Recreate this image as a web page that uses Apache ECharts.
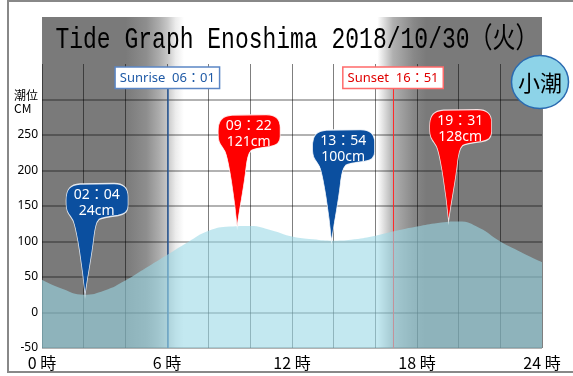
<!DOCTYPE html>
<html>
<head>
<meta charset="utf-8">
<script src="https://cdn.jsdelivr.net/npm/echarts@6/dist/echarts.min.js"></script>
<style>
  html, body { margin: 0; background: #fff; }
  #chart { width: 573px; height: 376px; }
</style>
</head>
<body>
<div id="chart"></div>
<script>
// tide level every hour (cm)
var hours = [0, 1, 2, 3, 4, 5, 6, 7, 8, 9, 10, 11, 12, 13, 14, 15, 16, 17, 18, 19, 20, 21, 22, 23, 24];
var tide = [46, 33, 25, 31, 45, 63, 81, 99, 115, 121, 122, 116, 107, 103, 101, 103, 108, 115, 121, 126, 128, 119, 100, 85, 71];

// high / low water
var peakTimes = ['02:04', '09:22', '13:54', '19:31'];
var peakLevels = [24, 121, 100, 128];
var peakKinds = ['low', 'high', 'low', 'high'];

var sunrise = '06:01';
var sunset = '16:51';
var xLabelHours = [0, 6, 12, 18, 24];
var maxYLabel = 250;
var tideName = '小潮';
var titleText = 'Tide Graph Enoshima 2018/10/30（火）';

var jpFont = '"Noto Sans CJK JP", "Noto Sans", sans-serif';
var pinFont = '"Noto Sans", "Noto Sans CJK JP", sans-serif';

function toHour(t) {
  var p = t.split(':');
  return +p[0] + p[1] / 60;
}

// balloon with a long tail, tip at bottom (19,112)
var pinPath = 'path://M19,112 C16,80 11,50 8,40 C7,36 5,34 3,31 C0,27 0,22 0,17 C0,6 4,1 14,0.5 L48,0 C58,0 62,5 62,13 L62,22 C62,29 58,31 52,32 C44,33 36,34 33,36 C30,39 29,45 28,52 C26,72 21,95 19,112 Z';

var tideData = hours.map(function (h, i) { return [h, tide[i]]; });
var pinData = peakTimes.map(function (t, i) {
  return {
    value: [toHour(t), peakLevels[i]],
    itemStyle: { color: peakKinds[i] === 'high' ? '#ff0000' : '#0b4f9f' }
  };
});

var sr = toHour(sunrise), ss = toHour(sunset);

var chart = echarts.init(document.getElementById('chart'));

var option = {
  animation: false,
  grid: { left: 42, right: 31, top: 64, bottom: 28 },
  xAxis: {
    type: 'value', min: 0, max: 24, interval: 2,
    axisLine: { show: false }, axisTick: { show: false },
    splitLine: { show: true, lineStyle: { color: 'rgba(0,0,0,0.5)', width: 1 } },
    axisLabel: {
      margin: 7, fontSize: 16, color: '#000', fontFamily: jpFont,
      formatter: function (v) { return xLabelHours.indexOf(v) >= 0 ? v + ' 時' : ''; }
    }
  },
  yAxis: {
    type: 'value', min: -50, max: 350, interval: 50,
    axisLine: { show: false }, axisTick: { show: false },
    splitLine: { show: true, showMaxLine: false, lineStyle: { color: 'rgba(0,0,0,0.3)', width: 2 } },
    axisLabel: {
      margin: 4, fontSize: 12, color: '#000', fontFamily: '"Noto Sans", sans-serif',
      formatter: function (v) { return v <= maxYLabel ? v : ''; }
    }
  },
  series: [
    {
      type: 'line',
      z: 3,
      data: tideData,
      smooth: true,
      showSymbol: false,
      lineStyle: { width: 0 },
      areaStyle: { color: 'rgba(155,217,230,0.6)', opacity: 1, origin: 'start' },
      markLine: {
        z: 1,
        silent: true,
        symbol: ['none', 'none'],
        data: [
          [
            {
              coord: [sr, -50],
              lineStyle: { color: '#2b5d9c', width: 1.5, type: 'solid' },
              label: {
                position: 'end', distance: 1, formatter: 'Sunrise  ' + sunrise.replace(':', '：'),
                color: '#1f5aa6', backgroundColor: '#fff', borderColor: '#5b86c5', borderWidth: 1.5,
                padding: [4, 4, 3, 4], fontSize: 13, fontFamily: pinFont
              }
            },
            { coord: [sr, 315] }
          ],
          [
            {
              coord: [ss, -50],
              lineStyle: { color: '#ff2a2a', width: 1, type: 'solid' },
              label: {
                position: 'end', distance: 1, formatter: 'Sunset  ' + sunset.replace(':', '：'),
                color: '#e00000', backgroundColor: '#fff', borderColor: '#ff6a6a', borderWidth: 1.5,
                padding: [4, 4, 3, 4], fontSize: 13, fontFamily: pinFont
              }
            },
            { coord: [ss, 315] }
          ]
        ]
      }
    },
    {
      type: 'scatter',
      z: 5,
      data: pinData,
      symbol: pinPath,
      symbolSize: [62, 112],
      symbolOffset: [12, -56],
      itemStyle: { opacity: 1, borderColor: 'rgba(255,255,255,0.85)', borderWidth: 1 },
      label: {
        show: true, position: [31, 20], align: 'center', verticalAlign: 'middle',
        color: '#fff', fontSize: 14, lineHeight: 16, fontFamily: pinFont,
        formatter: function (p) {
          var i = p.dataIndex;
          return peakTimes[i].replace(':', '：') + '\n' + peakLevels[i] + 'cm';
        }
      }
    }
  ]
};
chart.setOption(option);

// day / night shading behind the plot, placed with the axis scales
var p0 = chart.convertToPixel({ gridIndex: 0 }, [0, -50]);
var p1 = chart.convertToPixel({ gridIndex: 0 }, [24, -50]);
function f(h) { return Math.max(0, Math.min(1, h / 24)); }
var night = '#7a7a7a';

chart.setOption({
  graphic: [
    {
      type: 'rect', z: -1, silent: true,
      shape: { x: p0[0], y: 17, width: p1[0] - p0[0], height: p0[1] - 17 },
      style: {
        fill: {
          type: 'linear', x: 0, y: 0, x2: 1, y2: 0,
          colorStops: [
            { offset: 0, color: night },
            { offset: f(sr - 2.0), color: night },
            { offset: f(sr - 1.0), color: '#8e8e8e' },
            { offset: f(sr - 0.4), color: '#acacac' },
            { offset: f(sr), color: '#c6c6c6' },
            { offset: f(sr + 0.4), color: '#ececec' },
            { offset: f(sr + 0.8), color: '#ffffff' },
            { offset: f(ss - 0.75), color: '#ffffff' },
            { offset: f(ss), color: '#b0b0b0' },
            { offset: f(ss + 1.0), color: '#888888' },
            { offset: f(ss + 1.6), color: night },
            { offset: 1, color: night }
          ]
        }
      }
    },
    {
      type: 'rect', z: 30, silent: true,
      shape: { x: 8, y: 1, width: 600, height: 371 },
      style: { fill: 'transparent', stroke: '#888', lineWidth: 2 }
    },
    {
      type: 'text', z: 10, x: 297, y: 40, scaleY: 1.25, silent: true,
      style: {
        text: titleText, x: 0, y: 0, fill: '#000',
        font: '23px "Liberation Mono", "Noto Sans CJK JP", monospace',
        textAlign: 'center', textVerticalAlign: 'middle', align: 'center', verticalAlign: 'middle'
      }
    },
    {
      type: 'text', z: 10, x: 14, y: 89, silent: true,
      style: {
        text: '潮位\nCM', fill: '#000', font: '12px ' + jpFont, lineHeight: 13
      }
    },
    {
      type: 'ellipse', z: 20, silent: true,
      shape: { cx: 540, cy: 82, rx: 28.5, ry: 26.5 },
      style: { fill: '#8dd3e8', stroke: '#2a6ab0', lineWidth: 1.5 }
    },
    {
      type: 'text', z: 21, x: 540, y: 83, silent: true,
      style: {
        text: tideName, fill: '#000', font: '22px ' + jpFont,
        textAlign: 'center', textVerticalAlign: 'middle', align: 'center', verticalAlign: 'middle'
      }
    }
  ]
});
</script>
</body>
</html>
